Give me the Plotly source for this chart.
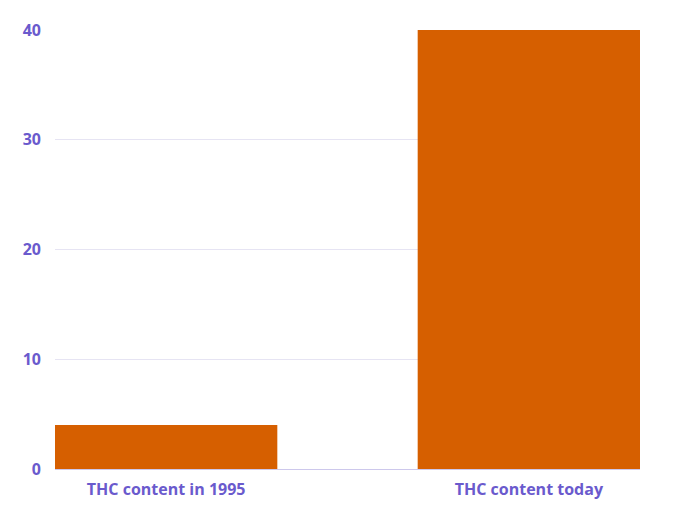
import plotly.graph_objects as go

categories = ["THC content in 1995", "THC content today"]
values = [4, 40]
tick_vals = [0, 10, 20, 30, 40]

label_color = "#6a5acd"
gap = 0.387

fig = go.Figure()
fig.add_trace(go.Bar(x=categories, y=values, marker=dict(color="#d65f00", line=dict(width=0)),
                     hoverinfo="x+y"))

fig.update_layout(
    width=680, height=510,
    margin=dict(l=47, r=48, t=22, b=49),
    paper_bgcolor="white", plot_bgcolor="white",
    bargap=gap,
    showlegend=False,
    font=dict(family="Open Sans", size=16, color=label_color),
)
fig.update_xaxes(showgrid=False, showline=True, linecolor="#cdc8ec", linewidth=1,
                 range=[-0.5 + gap / 2, 1.5 - gap / 2],
                 tickfont=dict(family="Open Sans", size=16, color=label_color, weight="bold"),
                 ticks="", ticklabelstandoff=6)
fig.update_yaxes(range=[0, 40], tickvals=tick_vals, showgrid=True, gridcolor="#e6e4f3",
                 zeroline=False, showline=False,
                 tickfont=dict(family="Open Sans", size=16, color=label_color, weight="bold"),
                 ticks="", ticklabelstandoff=13)

fig.write_html("out.html")
